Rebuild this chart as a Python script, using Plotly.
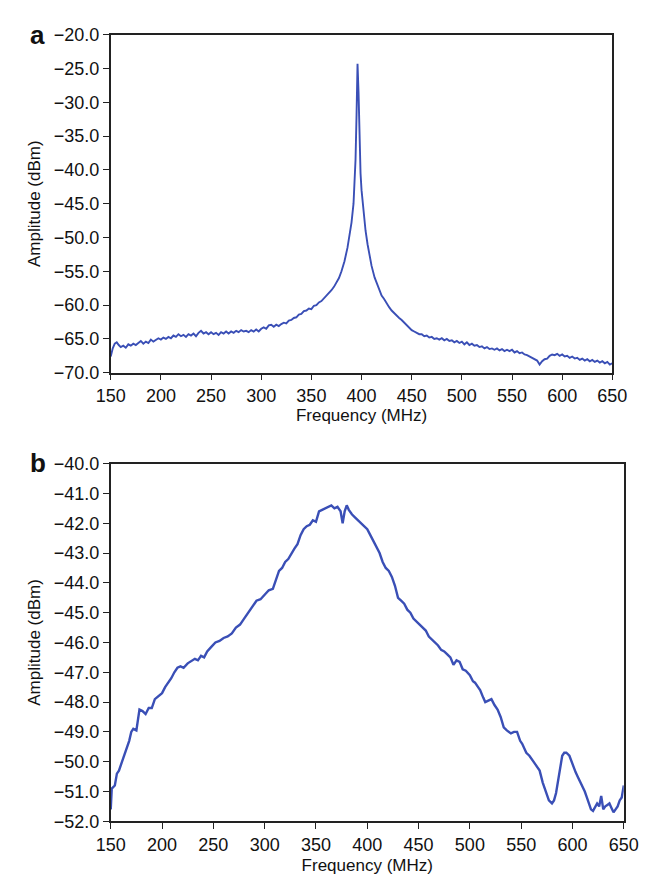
import plotly.graph_objects as go

# ---------------- Data ----------------
freq_a = [150,152,154,156,158,160,162.5,165,167.5,170,172.5,175,177.5,180,182.5,185,187.5,190,192.5,195,
          197.5,200,202.5,205,207.5,210,212.5,215,217.5,220,222.5,225,227.5,230,232.5,235,237.5,240,242.5,245,
          247.5,250,252.5,255,257.5,260,262.5,265,267.5,270,272.5,275,277.5,280,282.5,285,287.5,290,292.5,295,
          297.5,300,302.5,305,307.5,310,312.5,315,317.5,320,322.5,325,327.5,330,332.5,335,337.5,340,342.5,345,
          347.5,350,352.5,355,357.5,360,362.5,365,367.5,370,372.5,375,377.5,380,383,386,388,390,392,393,
          394,395,396,397,398,399,400,402,404,406,408,410,413,416,418,420,422.5,425,427.5,430,
          432.5,435,437.5,440,442.5,445,447.5,450,452.5,455,457.5,460,462.5,465,467.5,470,472.5,475,477.5,480,
          482.5,485,487.5,490,492.5,495,497.5,500,502.5,505,507.5,510,512.5,515,517.5,520,522.5,525,527.5,530,
          532.5,535,537.5,540,542.5,545,547.5,550,552.5,555,557.5,560,562.5,565,567.5,570,572.5,575,577.5,580,
          582.5,585,587.5,590,592.5,595,597.5,600,602.5,605,607.5,610,612.5,615,617.5,620,622.5,625,627.5,630,
          632.5,635,637.5,640,642.5,645,647.5,650]
amp_a = [-67.6,-66.4,-65.7,-65.5,-65.9,-66.2,-66.0,-66.3,-65.8,-66.0,-65.7,-65.9,-65.6,-65.3,-65.7,-65.4,-65.6,-65.1,-65.4,-65.2,
         -64.9,-65.1,-64.8,-65.0,-64.7,-64.9,-64.5,-64.7,-64.3,-64.6,-64.4,-64.7,-64.3,-64.5,-64.2,-64.6,-64.1,-63.8,-64.2,-64.0,
         -64.3,-64.0,-64.3,-64.1,-64.4,-64.0,-64.2,-63.9,-64.2,-63.9,-64.1,-63.8,-64.0,-63.7,-63.9,-63.8,-64.0,-63.7,-63.9,-63.6,
         -63.9,-63.5,-63.3,-63.5,-63.0,-62.9,-63.2,-62.9,-63.1,-62.8,-62.6,-62.7,-62.3,-62.2,-61.9,-61.8,-61.4,-61.3,-60.9,-60.8,
         -60.5,-60.6,-60.1,-60.0,-59.6,-59.4,-59.0,-58.7,-58.2,-57.8,-57.3,-56.7,-56.0,-55.0,-53.5,-51.5,-49.8,-47.8,-45.0,-42.5,
         -38.5,-32.0,-24.3,-28.5,-36.0,-40.5,-43.0,-46.5,-49.0,-51.0,-52.8,-54.2,-55.9,-57.2,-57.9,-58.6,-59.1,-59.8,-60.3,-60.8,
         -61.2,-61.5,-61.9,-62.2,-62.6,-63.0,-63.3,-63.7,-63.9,-64.1,-64.3,-64.3,-64.6,-64.5,-64.8,-64.7,-65.0,-64.9,-65.1,-64.9,
         -65.2,-65.0,-65.3,-65.2,-65.5,-65.3,-65.6,-65.4,-65.8,-65.5,-65.9,-65.7,-66.0,-65.9,-66.2,-66.1,-66.4,-66.2,-66.5,-66.4,
         -66.6,-66.4,-66.7,-66.5,-66.8,-66.6,-66.8,-66.6,-67.0,-66.8,-67.1,-67.0,-67.3,-67.4,-67.6,-67.7,-68.0,-68.2,-68.8,-68.3,
         -68.0,-67.9,-67.5,-67.3,-67.4,-67.2,-67.5,-67.3,-67.6,-67.5,-67.8,-67.6,-67.9,-67.8,-68.1,-67.9,-68.2,-68.0,-68.3,-68.1,
         -68.4,-68.2,-68.5,-68.3,-68.6,-68.4,-68.8,-68.6]

freq_b = [150,151,154,156,158,160,163,166,168,170,172,175,177,178,181,184,187,190,193,196,
          200,203,206,209,212,215,218,221,225,229,232,235,238,241,244,248,252,256,260,264,
          268,272,276,280,284,288,292,296,300,304,308,311,314,317,320,323,326,329,332,335,
          338,341,344,347,350,353,356,359,362,365,368,371,374,376,378,380,382,385,388,391,
          394,397,400,403,406,409,412,415,418,421,424,427,430,433,436,439,442,445,448,451,
          454,457,460,463,466,469,472,475,478,481,484,487,490,493,496,500,503,505,508,510,
          513,515,518,521,524,527,530,533,536,540,543,546,549,551,555,558,562,565,568,571,
          574,577,580,582,584,586,588,590,592,594,597,599,601,603,605,608,610,612,614,616,
          618,620,622,624,626,628,630,632,634,636,638,640,642,644,646,648,650]
amp_b = [-51.6,-50.9,-50.8,-50.4,-50.3,-50.1,-49.8,-49.5,-49.3,-49.0,-48.9,-48.95,-48.5,-48.25,-48.3,-48.4,-48.2,-48.2,-47.9,-47.8,
         -47.7,-47.5,-47.35,-47.2,-47.0,-46.85,-46.8,-46.85,-46.7,-46.6,-46.55,-46.6,-46.45,-46.5,-46.3,-46.15,-46.0,-45.95,-45.85,-45.8,
         -45.7,-45.5,-45.4,-45.2,-45.0,-44.8,-44.6,-44.55,-44.4,-44.25,-44.2,-43.9,-43.6,-43.5,-43.3,-43.2,-43.0,-42.85,-42.7,-42.4,
         -42.2,-42.1,-42.05,-41.9,-41.95,-41.6,-41.55,-41.5,-41.45,-41.4,-41.5,-41.45,-41.6,-42.0,-41.6,-41.4,-41.55,-41.7,-41.8,-41.9,
         -42.0,-42.1,-42.2,-42.4,-42.6,-42.8,-43.0,-43.3,-43.5,-43.6,-43.8,-44.1,-44.5,-44.6,-44.7,-44.9,-45.0,-45.2,-45.3,-45.4,
         -45.5,-45.6,-45.8,-45.9,-46.0,-46.1,-46.25,-46.3,-46.4,-46.5,-46.75,-46.6,-46.65,-46.9,-46.95,-47.1,-47.3,-47.35,-47.5,-47.6,
         -47.85,-48.0,-47.95,-47.9,-48.1,-48.25,-48.5,-48.85,-48.95,-49.05,-49.0,-49.0,-49.3,-49.4,-49.7,-49.8,-50.0,-50.15,-50.3,-50.7,
         -51.0,-51.3,-51.4,-51.3,-51.05,-50.6,-50.2,-49.8,-49.7,-49.7,-49.8,-50.0,-50.15,-50.35,-50.5,-50.7,-50.85,-51.0,-51.2,-51.4,
         -51.6,-51.65,-51.5,-51.4,-51.5,-51.15,-51.6,-51.5,-51.45,-51.4,-51.55,-51.7,-51.6,-51.5,-51.3,-51.2,-50.8]

x_ticks = [150, 200, 250, 300, 350, 400, 450, 500, 550, 600, 650]
y_ticks_a = [-70, -65, -60, -55, -50, -45, -40, -35, -30, -25, -20]
y_ticks_b = [-52, -51, -50, -49, -48, -47, -46, -45, -44, -43, -42, -41, -40]

# ---------------- Figure ----------------
W, H = 647, 879
LINE = "#3a4fb6"
FONT = "Liberation Sans, Arial, sans-serif"
TICK_SIZE = 18
TITLE_SIZE = 17

fig = go.Figure()
fig.add_trace(go.Scatter(x=freq_a, y=amp_a, mode="lines", line=dict(color=LINE, width=1.9),
                         xaxis="x", yaxis="y", showlegend=False))
fig.add_trace(go.Scatter(x=freq_b, y=amp_b, mode="lines", line=dict(color=LINE, width=2.4),
                         xaxis="x2", yaxis="y2", showlegend=False))

def px_x(p):
    return p / W

def px_y(p):
    return 1 - p / H

axis_common = dict(showgrid=False, zeroline=False, showline=True, mirror=True,
                   linecolor="#222222", linewidth=1.5, ticks="outside", ticklen=6,
                   tickwidth=1.2, tickcolor="#222222",
                   tickfont=dict(family=FONT, size=TICK_SIZE, color="#111111"))

fig.update_layout(
    width=W, height=H,
    margin=dict(l=0, r=0, t=0, b=0),
    paper_bgcolor="white", plot_bgcolor="white",
    font=dict(family=FONT, color="#111111"),
    xaxis=dict(domain=[px_x(92), px_x(618)], range=[150, 650], tickvals=x_ticks,
               anchor="y",
               title=dict(text="Frequency (MHz)", font=dict(family=FONT, size=TITLE_SIZE), standoff=3),
               **axis_common),
    yaxis=dict(domain=[px_y(363), px_y(17)], range=[-70, -20], tickvals=y_ticks_a,
               tickformat=".1f", anchor="x",
               title=dict(text="Amplitude (dBm)", font=dict(family=FONT, size=TITLE_SIZE), standoff=9),
               **axis_common),
    xaxis2=dict(domain=[px_x(92), px_x(630)], range=[150, 650], tickvals=x_ticks,
                anchor="y2",
                title=dict(text="Frequency (MHz)", font=dict(family=FONT, size=TITLE_SIZE), standoff=5),
                **axis_common),
    yaxis2=dict(domain=[px_y(822), px_y(456)], range=[-52, -40], tickvals=y_ticks_b,
                tickformat=".1f", anchor="x2",
                title=dict(text="Amplitude (dBm)", font=dict(family=FONT, size=TITLE_SIZE), standoff=9),
                **axis_common),
    annotations=[
        dict(text="<b>a</b>", x=px_x(5), y=px_y(0), xref="paper", yref="paper",
             xanchor="left", yanchor="top", showarrow=False,
             font=dict(family=FONT, size=26, color="#111111")),
        dict(text="<b>b</b>", x=px_x(5), y=px_y(438), xref="paper", yref="paper",
             xanchor="left", yanchor="top", showarrow=False,
             font=dict(family=FONT, size=26, color="#111111")),
    ],
)

fig.write_html("out.html")
